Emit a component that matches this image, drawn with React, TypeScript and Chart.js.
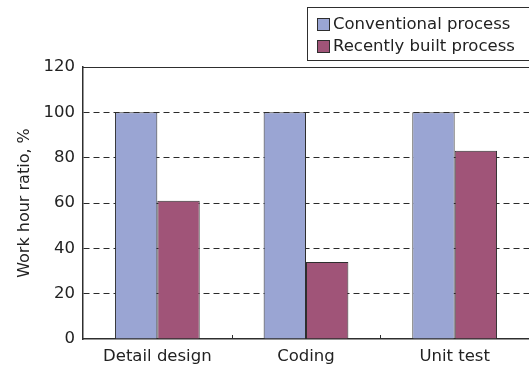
import React, { useEffect, useRef } from "react";
import { Chart, registerables } from "chart.js";

Chart.register(...registerables);

const categories = ["Detail design", "Coding", "Unit test"];
const conventional = [100, 100, 100];
const recent = [61, 34, 83];
const seriesNames = ["Conventional process", "Recently built process"];
const yTicks = [0, 20, 40, 60, 80, 100, 120];

const BLUE = "#9aa5d3";
const MAGENTA = "#a05478";
const EDGE = "#2e2e2e";
const TEXT = "#222222";
const FONT = "'DejaVu Sans', sans-serif";

const decorPlugin = {
  id: "decor",
  afterDraw(chart: any) {
    const { ctx, chartArea } = chart;
    const x = chart.scales.x;
    ctx.save();
    // solid top line at 120
    ctx.strokeStyle = EDGE;
    ctx.lineWidth = 1;
    ctx.beginPath();
    ctx.moveTo(chartArea.left, Math.round(chartArea.top) + 0.5);
    ctx.lineTo(chartArea.right, Math.round(chartArea.top) + 0.5);
    ctx.stroke();
    // upward ticks at category boundaries
    const n = chart.data.labels.length;
    ctx.beginPath();
    for (let i = 0; i < n - 1; i++) {
      const bx = Math.round((x.getPixelForValue(i) + x.getPixelForValue(i + 1)) / 2) + 0.5;
      ctx.moveTo(bx, chartArea.bottom);
      ctx.lineTo(bx, chartArea.bottom - 4);
    }
    ctx.stroke();
    // legend box
    const W = chart.width;
    const boxLeft = W - 222;
    const boxTop = 7;
    const boxH = 53;
    ctx.lineWidth = 1;
    ctx.strokeStyle = EDGE;
    ctx.strokeRect(boxLeft + 0.5, boxTop + 0.5, 240, boxH);
    ctx.font = "16.5px " + FONT;
    ctx.textBaseline = "middle";
    ctx.textAlign = "left";
    chart.data.datasets.forEach((ds: any, i: number) => {
      const cy = boxTop + 17 + i * 22;
      ctx.fillStyle = ds.backgroundColor;
      ctx.fillRect(boxLeft + 10, cy - 6, 13, 13);
      ctx.strokeStyle = EDGE;
      ctx.strokeRect(boxLeft + 10.5, cy - 5.5, 12, 12);
      ctx.fillStyle = TEXT;
      ctx.fillText(ds.label, boxLeft + 26, cy + 1);
    });
    ctx.restore();
  },
};

export default function App() {
  const ref = useRef<HTMLCanvasElement | null>(null);
  useEffect(() => {
    const chart = new Chart(ref.current!, {
      type: "bar",
      data: {
        labels: categories,
        datasets: [
          {
            label: seriesNames[0],
            data: conventional,
            backgroundColor: BLUE,
            borderColor: EDGE,
            borderWidth: 1,
            categoryPercentage: 0.57,
            barPercentage: 1,
          },
          {
            label: seriesNames[1],
            data: recent,
            backgroundColor: MAGENTA,
            borderColor: EDGE,
            borderWidth: 1,
            categoryPercentage: 0.57,
            barPercentage: 1,
          },
        ],
      },
      options: {
        animation: false,
        responsive: true,
        maintainAspectRatio: false,
        layout: { padding: { top: 67, right: 0, left: 0, bottom: 0 } },
        plugins: { legend: { display: false }, tooltip: { enabled: false } },
        scales: {
          x: {
            grid: { display: false },
            border: { display: true, color: EDGE, width: 1.5 },
            ticks: { color: TEXT, font: { family: FONT, size: 16.5 }, padding: 0 },
            afterFit(scale: any) {
              scale.height = 30;
            },
          },
          y: {
            min: 0,
            max: 120,
            afterBuildTicks(scale: any) {
              scale.ticks = yTicks.map((v) => ({ value: v }));
            },
            grid: {
              drawTicks: false,
              color: (c: any) =>
                c.tick && (c.tick.value === 0 || c.tick.value === 120) ? "rgba(0,0,0,0)" : "#2a2a2a",
              lineWidth: 1,
            },
            border: { display: true, color: EDGE, width: 1.5, dash: [6, 4] },
            ticks: { color: TEXT, font: { family: FONT, size: 16.5 }, padding: 8 },
            title: {
              display: true,
              text: "Work hour ratio, %",
              color: TEXT,
              font: { family: FONT, size: 16 },
              padding: { top: 15, bottom: 8 },
            },
            afterFit(scale: any) {
              scale.width = 83;
            },
          },
        },
      },
      plugins: [decorPlugin],
    });
    return () => chart.destroy();
  }, []);
  return (
    <div style={{ position: "absolute", left: 0, top: 0, width: 529, height: 369, background: "#fff" }}>
      <canvas ref={ref} />
    </div>
  );
}
